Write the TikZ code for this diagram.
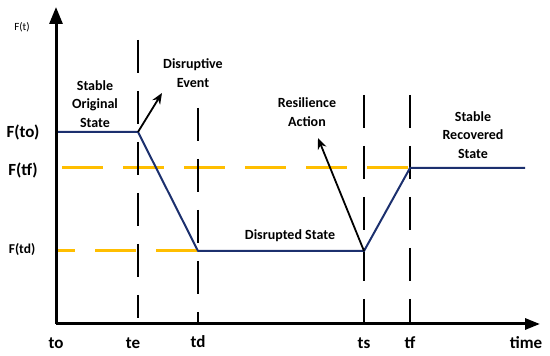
\documentclass[tikz,border=0pt]{standalone}
\usepackage{fontspec}
\setmainfont{Carlito}
\usepackage{xcolor}
\usetikzlibrary{arrows.meta, positioning, calc}
\definecolor{navyline}{RGB}{28,48,110}
\definecolor{goldline}{RGB}{255,190,0}

\begin{document}
\begin{tikzpicture}[
            x=1pt,
            y=1pt,
            >=Stealth,
            axis/.style={line width=3pt, -{Triangle[length=17pt, width=13pt]}},
            cut/.style={black, line width=1.8pt, dash pattern=on 33pt off 18pt},
            refline/.style={goldline, line width=3pt, dash pattern=on 41pt off 20pt},
            curve/.style={navyline, line width=2pt, line join=round},
            pointer/.style={line width=1.8pt, -{Stealth[length=11pt, width=9pt]}},
            lbl/.style={font=\bfseries\fontsize{14}{18.5}\selectfont, align=center},
            tick/.style={font=\bfseries\fontsize{17}{20}\selectfont},
            lvl/.style={font=\bfseries\fontsize{17}{20}\selectfont}
            ]
            \useasboundingbox (0,0) rectangle (550,356);

            % 坐标轴
            \coordinate (O) at (56,32);
            \coordinate (ytop) at (56,349);
            \coordinate (xend) at (540,32);

            % 曲线转折点
            \coordinate (c0) at (56,224);
            \coordinate (ce) at (138,224);
            \coordinate (cd) at (198,105);
            \coordinate (cs) at (364,105);
            \coordinate (cf) at (410,188);
            \coordinate (cend) at (525,188);

            % 参考水平线
            \coordinate (tf0) at (62,188);
            \coordinate (td0) at (56,105);
            \draw[refline, dash phase=22pt] (td0) -- (cd);
            \draw[refline] (tf0) -- (cf);

            % 时间分割线
            \coordinate (te top) at (138,316);
            \coordinate (te bot) at (138,38);
            \coordinate (td top) at (198,248);
            \coordinate (td bot) at (198,32);
            \coordinate (ts top) at (364,261);
            \coordinate (ts bot) at (364,32);
            \coordinate (tf top) at (410,261);
            \coordinate (tf bot) at (410,32);
            \draw[cut] (te top) -- (te bot);
            \draw[cut] (td top) -- (td bot);
            \draw[cut] (ts top) -- (ts bot);
            \draw[cut] (tf top) -- (tf bot);

            % 功能曲线
            \draw[curve] (c0) -- (ce) -- (cd) -- (cs) -- (cf) -- (cend);

            \draw[axis] (O) -- (ytop);
            \draw[axis, -{Triangle[length=15pt, width=11pt]}] (O) -- (xend);

            % 纵轴标签
            \node[font=\fontsize{11}{13}\selectfont] (Ft) at (22,329) {F(t)};
            \node[lvl] (Fto) at (23,224) {F(to)};
            \node[lvl] (Ftf) at (23,186) {F(tf)};
            \node[font=\bfseries\fontsize{13.5}{16}\selectfont] (Ftd) at (22,106) {F(td)};

            % 横轴标签
            \node[tick] (to) at (56,13) {to};
            \node[tick] (te) at (133,13) {te};
            \node[tick] (td) at (198,14) {td};
            \node[tick] (ts) at (364,13) {ts};
            \node[tick] (tf) at (410,13) {tf};
            \node[tick] (time) at (526,13) {time};

            % 状态说明
            \node[lbl] (orig) at (95,252) {Stable\\Original\\State};
            \node[lbl] (event) at (193,283) {Disruptive\\Event};
            \node[lbl] (action) at (307,244) {Resilience\\Action};
            \node[lbl] (recov) at (473,221) {Stable\\Recovered\\State};
            \node[lbl] (disr) at (290,120) {Disrupted State};

            % 指示箭头
            \coordinate (event tip) at (162,263);
            \coordinate (action tip) at (318,218);
            \draw[pointer] (ce) -- (event tip);
            \draw[pointer] (cs) -- (action tip);
        \end{tikzpicture}
\end{document}
